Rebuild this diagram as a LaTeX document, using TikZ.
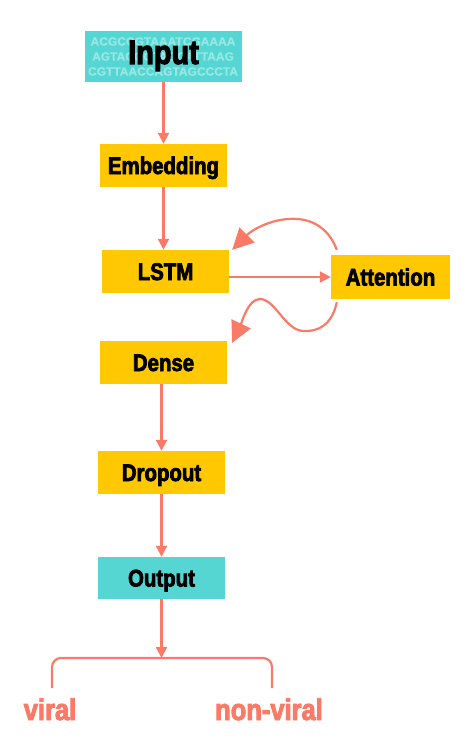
\documentclass[tikz,border=0pt]{standalone}
\usepackage{fontspec}
\newfontfamily\impactish{Liberation Sans}[FakeStretch=0.85, BoldFeatures={FakeBold=3}]
\newfontfamily\dnafont{Liberation Sans}[BoldFeatures={FakeBold=1}]
\usetikzlibrary{arrows.meta,calc}
\definecolor{boxyellow}{RGB}{255,200,0}
\definecolor{boxcyan}{RGB}{86,214,210}
\definecolor{dnacyan}{RGB}{150,232,229}
\definecolor{salmon}{RGB}{250,122,104}
\tikzset{
  layer/.style={rectangle, fill=boxyellow, inner sep=0pt, minimum width=127pt, minimum height=43pt,
    font=\impactish\bfseries\fontsize{24}{24}\selectfont, text height=17pt, text depth=0pt},
  iolayer/.style={layer, fill=boxcyan},
  flow/.style={draw=salmon, line width=2.2pt, -{Triangle[length=11pt,width=11pt]}},
  bigflow/.style={draw=salmon, line width=2.2pt, -{Triangle[length=21pt,width=21pt]}},
  lbl/.style={text=salmon, font=\impactish\bfseries\fontsize{30}{30}\selectfont, anchor=base}
}
\begin{document}
\begin{tikzpicture}[x=1pt,y=-1pt]
\useasboundingbox (0,0) rectangle (466,741);
% Input box
\node[iolayer, minimum width=157pt, minimum height=51pt] (inp) at (163.5,56.5) {};
\node[text=dnacyan, font=\dnafont\bfseries\fontsize{12}{15}\selectfont, align=center, inner sep=0pt] (dna) at (163,56.5)
  {ACGCCGTAAATCGAAAA\\AGTACGGTAGCATTAAG\\CGTTAACCAGTAGCCCTA};
\node[font=\impactish\bfseries\fontsize{34}{34}\selectfont, text height=24pt, text depth=0pt, inner sep=0pt] (inptxt) at (163.5,52) {Input};
% layers
\node[layer] (emb) at (163.5,165.5) {Embedding};
\node[layer] (lstm) at (165.5,271.5) {LSTM};
\node[layer, minimum width=119pt, minimum height=44pt] (att) at (390.5,277) {Attention};
\node[layer] (dense) at (163.5,362.5) {Dense};
\node[layer] (drop) at (161.5,472.5) {Dropout};
\node[iolayer, minimum height=42pt] (out) at (161.5,578) {Output};
% straight connectors
\draw[flow] (inp.south -| emb.north) -- (emb.north);
\draw[flow] (emb.south) -- (emb.south |- lstm.north);
\draw[flow] (lstm.east |- att.west) -- (att.west);
\draw[flow] (dense.south -| drop.north) -- (drop.north);
\draw[flow] (drop.south) -- (out.north);
% curved connectors
\coordinate (a1) at ($(att.north west)+(6,-5)$);
\coordinate (l1) at ($(lstm.north east)+(3,0)$);
\draw[bigflow] (a1) .. controls (318,200) and (260,222) .. (l1);
\coordinate (a2) at ($(att.south west)+(6,3)$);
\coordinate (d1) at ($(dense.north east)+(5,2)$);
\draw[bigflow] (a2) .. controls (332,325) and (318,332) .. (303,331)
  .. controls (285,330) and (275,299) .. (260,299)
  .. controls (248,299) and (242,322) .. (d1);
% output split
\coordinate (split) at (161.5,658);
\coordinate (vl) at (52,688);
\coordinate (vr) at (272,688);
\draw[flow] (out.south) -- (split);
\draw[draw=salmon, line width=2.2pt, rounded corners=9pt] (vl) |- (split) -| (vr);
\node[lbl] (viral) at (50,720) {viral};
\node[lbl] (nonviral) at (269,720) {non-viral};
\end{tikzpicture}
\end{document}
